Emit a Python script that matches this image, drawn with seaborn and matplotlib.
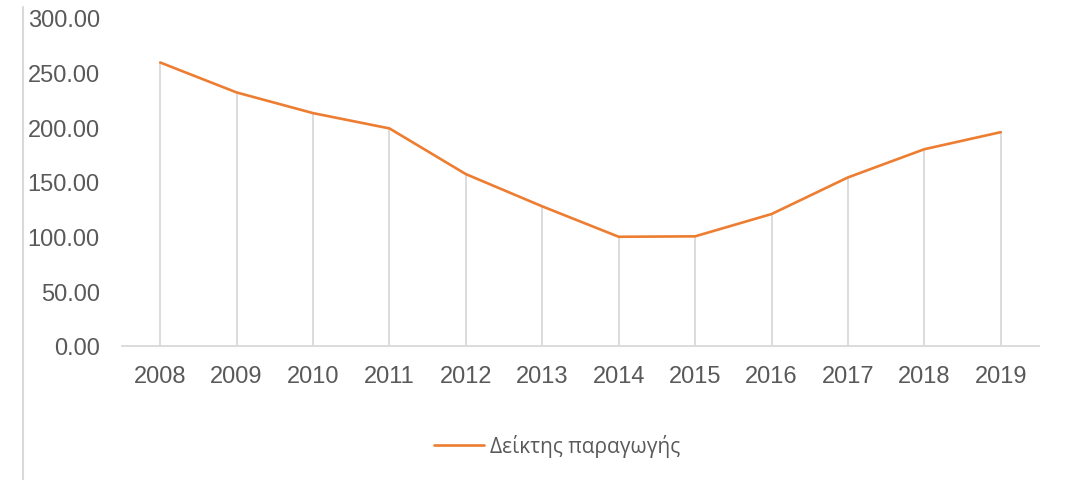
import matplotlib
matplotlib.use("Agg")
import matplotlib.pyplot as plt
from matplotlib.lines import Line2D
import seaborn as sns
import pandas as pd

# Production index by year
years = ["2008", "2009", "2010", "2011", "2012", "2013",
         "2014", "2015", "2016", "2017", "2018", "2019"]
index_values = [259.3, 231.9, 213.0, 199.0, 157.2, 127.7,
                99.9, 100.3, 120.7, 154.2, 180.0, 195.6]
series_name = "Δείκτης παραγωγής"
y_ticks = [0, 50, 100, 150, 200, 250, 300]

ORANGE = "#ED7D31"
GRID = "#D9D9D9"
TEXT = "#595959"

sns.set_theme(style="white")
plt.rcParams["font.family"] = ["Liberation Sans", "DejaVu Sans"]

df = pd.DataFrame({"year": years, "value": index_values})

fig = plt.figure(figsize=(10.76, 4.81), dpi=100)
ax = fig.add_axes([122 / 1076, 1 - 347 / 481, (1039 - 122) / 1076, (347 - 19) / 481])

sns.lineplot(data=df, x="year", y="value", ax=ax, color=ORANGE,
             linewidth=1.9, sort=False, label=series_name, legend=False)

# Drop lines from each point down to the axis
positions = list(range(len(years)))
ax.vlines(positions, 0, df["value"], colors=GRID, linewidth=1.3, zorder=1)

ax.set_xlim(-0.5, len(years) - 0.5)
ax.set_ylim(0, 300)
ax.set_yticks(y_ticks)
ax.set_yticklabels([f"{v:.2f}" for v in y_ticks])
ax.set_xlabel("")
ax.set_ylabel("")

for side in ["top", "right", "left"]:
    ax.spines[side].set_visible(False)
ax.spines["bottom"].set_color(GRID)
ax.spines["bottom"].set_linewidth(1.3)

ax.tick_params(axis="y", length=0, pad=16, labelsize=17, labelcolor=TEXT)
ax.tick_params(axis="x", length=0, pad=14, labelsize=17, labelcolor=TEXT)

handle = Line2D([0], [0], color=ORANGE, linewidth=1.9)
leg = fig.legend([handle], [series_name], loc="center",
                 bbox_to_anchor=(557 / 1076, 1 - 447 / 481),
                 frameon=False, handlelength=2.4, handletextpad=0.3,
                 prop={"family": ["Open Sans", "DejaVu Sans"], "size": 15})
for t in leg.get_texts():
    t.set_color(TEXT)

# Thin border line on the left of the chart area
fig.add_artist(Line2D([23 / 1076, 23 / 1076], [0, 1 - 8 / 481],
                      transform=fig.transFigure, color=GRID, linewidth=1.5))

fig.savefig("out.png", dpi=100)
